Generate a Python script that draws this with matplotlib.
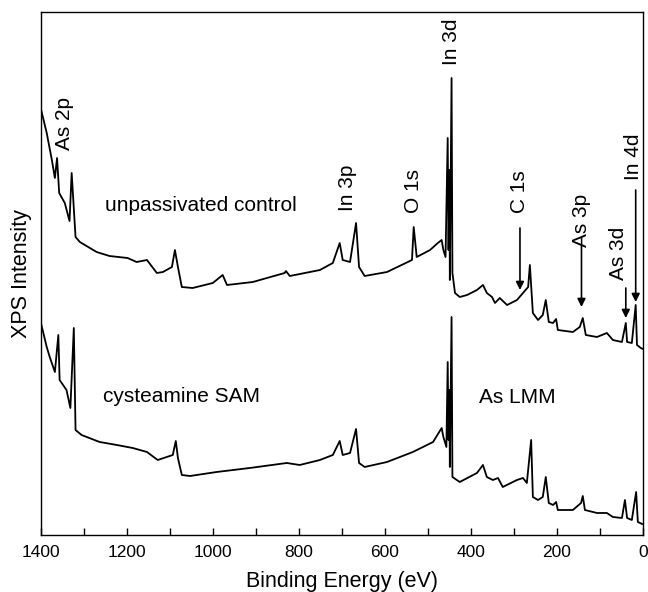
import matplotlib
matplotlib.use("Agg")
import matplotlib.pyplot as plt
from matplotlib.ticker import MultipleLocator

plt.rcParams["font.family"] = ["Liberation Sans", "DejaVu Sans"]

# =============================
# Spectra (arbitrary intensity units)
# =============================
energy_top = [1400, 1386, 1374, 1367, 1362, 1357, 1344, 1333, 1328, 1319, 1309,
              1270, 1240, 1198, 1177, 1153, 1130, 1116, 1095, 1088, 1081, 1072,
              1047, 1000, 977, 967, 907, 833, 830, 821, 751, 721, 705, 698, 681,
              667, 660, 647, 595, 537, 533, 526, 495, 477, 468, 464, 459, 454,
              452, 450, 449, 445, 443, 437, 426, 409, 386, 372, 363, 351, 344,
              333, 316, 293, 279, 267, 263, 256, 244, 233, 226, 219, 209, 202,
              198, 163, 147, 140, 133, 107, 84, 70, 49, 40, 37, 26, 17, 14, 5, 0]
counts_top = [427, 402, 375, 357, 377, 342, 332, 314, 362, 298, 293,
              283, 279, 277, 273, 275, 262, 263, 268, 285, 268, 248,
              247, 252, 260, 250, 253, 262, 264, 259, 265, 272, 292, 275, 273,
              312, 268, 259, 263, 275, 308, 278, 285, 292, 295, 285, 278, 397,
              285, 365, 255, 457, 262, 242, 238, 240, 245, 250, 242, 238, 232,
              237, 230, 235, 242, 248, 270, 222, 215, 220, 235, 213, 212, 216,
              205, 203, 208, 217, 200, 198, 202, 195, 193, 212, 193, 192, 230,
              190, 187, 186]

energy_bot = [1400, 1386, 1379, 1367, 1359, 1356, 1340, 1331, 1323, 1319, 1305,
              1263, 1223, 1186, 1153, 1128, 1107, 1093, 1086, 1081, 1072, 1053,
              991, 914, 828, 798, 751, 721, 705, 698, 681, 667, 660, 647, 595,
              535, 488, 468, 464, 457, 454, 452, 450, 449, 445, 443, 426, 386,
              372, 363, 349, 337, 326, 293, 279, 270, 260, 256, 244, 233, 226,
              219, 209, 202, 198, 163, 144, 140, 135, 107, 84, 70, 49, 42, 37,
              26, 16, 12, 2]
counts_bot = [213, 188, 178, 163, 200, 155, 145, 127, 207, 105, 100,
              93, 90, 87, 83, 75, 78, 80, 94, 77, 60, 59,
              63, 67, 72, 70, 75, 80, 94, 80, 82, 106, 72, 68, 73,
              83, 93, 107, 98, 88, 173, 95, 145, 68, 218, 58, 53, 62,
              70, 58, 55, 57, 48, 55, 57, 52, 95, 38, 35, 38, 58,
              32, 30, 33, 25, 25, 32, 39, 25, 22, 22, 18, 17, 35, 17,
              15, 43, 13, 11]

# peak labels: text, energy, intensity
peak_labels = ["As 2p", "In 3p", "O 1s", "In 3d", "C 1s", "As 3p", "As 3d", "In 4d"]
peak_label_x = [1344, 686, 533, 444, 286, 142, 56, 21]
peak_label_y = [412, 347, 344, 493, 343, 315, 282, 378]

# arrows: energy, start intensity, tip intensity
arrow_x = [286, 143, 40, 17]
arrow_from = [307, 290, 247, 345]
arrow_to = [245, 228, 217, 233]

# =============================
# Plot
# =============================
fig = plt.figure(figsize=(6.48, 5.92), dpi=100)
ax = fig.add_axes([0.0628, 0.0963, 0.9295, 0.8834])

ax.plot(energy_top, counts_top, color="black", lw=1.3)
ax.plot(energy_bot, counts_bot, color="black", lw=1.3)

for lab, x, y in zip(peak_labels, peak_label_x, peak_label_y):
    ax.text(x, y, lab, rotation=90, ha="center", va="center", fontsize=15)

for x, y0, y1 in zip(arrow_x, arrow_from, arrow_to):
    ax.annotate("", xy=(x, y1), xytext=(x, y0),
                arrowprops=dict(arrowstyle="-|>", color="black", lw=1.2,
                                mutation_scale=12, shrinkA=0, shrinkB=0))

ax.text(1251, 330, "unpassivated control", ha="left", va="center", fontsize=15)
ax.text(1256, 138, "cysteamine SAM", ha="left", va="center", fontsize=15)
ax.text(381, 137, "As LMM", ha="left", va="center", fontsize=15)

ax.set_xlim(1400, 0)
ax.set_ylim(0, 523)
ax.xaxis.set_major_locator(MultipleLocator(200))
ax.xaxis.set_minor_locator(MultipleLocator(100))
ax.tick_params(axis="x", which="both", direction="in", length=5, width=1,
               labelsize=12.5, pad=7, top=False)
ax.set_yticks([])
for s in ax.spines.values():
    s.set_linewidth(1)

ax.set_xlabel("Binding Energy (eV)", fontsize=15.5, labelpad=8)
ax.set_ylabel("XPS Intensity", fontsize=15.5, labelpad=6)

plt.savefig("out.png", dpi=100)
